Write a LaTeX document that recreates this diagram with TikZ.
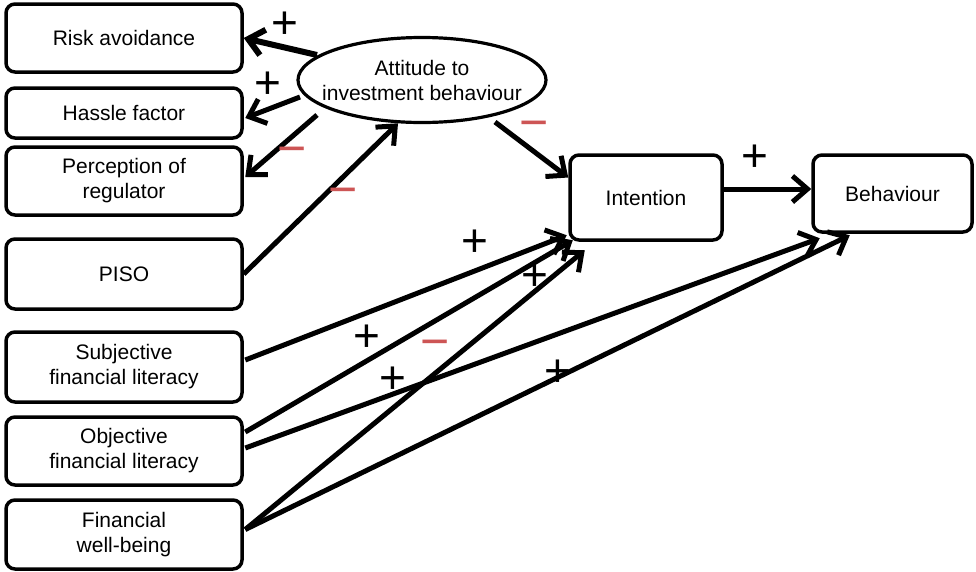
\documentclass[tikz,border=0pt]{standalone}
\usepackage{fontspec}
\setmainfont{Liberation Sans}
\usetikzlibrary{arrows.meta,shapes.geometric}
\definecolor{minusred}{RGB}{205,85,85}
\begin{document}
\begin{tikzpicture}[x=1pt,y=-1pt,
  box/.style={draw,line width=3.5pt,rounded corners=9pt,align=center,
    inner sep=0pt,minimum width=236pt,font=\fontsize{21}{25}\selectfont},
  link/.style={line width=5pt,-{Straight Barb[length=15pt,width=26pt]}},
  plussign/.style={font=\fontsize{46}{46}\selectfont,inner sep=0pt},
  minussign/.style={font=\fontsize{50}{50}\selectfont,text=minusred,inner sep=0pt}]
\useasboundingbox (0,0) rectangle (976,571);

% input constructs
\node[box,minimum height=68pt] (risk)   at (124,38)  {Risk avoidance};
\node[box,minimum height=50pt] (hassle) at (124,113) {Hassle factor};
\node[box,minimum height=68pt] (perc)   at (124,181) {Perception of\\regulator};
\node[box,minimum height=70pt] (piso)   at (124,274) {PISO};
\node[box,minimum height=70pt] (subj)   at (124,367) {Subjective\\financial literacy};
\node[box,minimum height=68pt] (obj)    at (124,451) {Objective\\financial literacy};
\node[box,minimum height=69pt] (fin)    at (124,534.5) {Financial\\well-being};

% attitude construct
\node[draw,ellipse,line width=3.2pt,inner xsep=-20pt,inner ysep=0pt,
  minimum width=248pt,minimum height=85pt,align=center,
  font=\fontsize{21}{25}\selectfont] (att) at (422,80)
  {Attitude to\\investment behaviour};

% outcomes
\node[box,minimum width=152pt,minimum height=85pt] (int) at (646,197.5) {Intention};
\node[box,minimum width=159pt,minimum height=77pt] (beh) at (892.5,193.5) {Behaviour};

% paths
\draw[link,line width=6pt] ([shift={(-105,-25)}]att.center) -- (risk.east);
\draw[link] ([shift={(-122,17)}]att.center) -- ([shift={(1.5,5)}]hassle.east);
\draw[link] ([shift={(-105,35)}]att.center) -- ([shift={(1.5,-4)}]perc.east);
\draw[link] (piso.east) -- (att.241);
\draw[link] ([shift={(73,42)}]att.center) -- ([shift={(0,-20)}]int.west);
\draw[link] ([shift={(0,-8.5)}]int.east) -- ([shift={(0,-4.5)}]beh.west);
\draw[link] ([shift={(1.5,-7)}]subj.east) -- ([shift={(-1.5,-6.5)}]int.south west);
\draw[link] ([shift={(1.5,-19)}]obj.east) -- ([shift={(4.5,-1.5)}]int.south west);
\draw[link] ([shift={(1.5,-3)}]obj.east) -- ([shift={(8.5,4.5)}]beh.south west);
\draw[link] ([shift={(1.5,-5)}]fin.east) -- ([shift={(16.5,8.5)}]int.south west);
\draw[link] ([shift={(1.5,-5)}]fin.east) -- ([shift={(38.5,1.5)}]beh.south west);

% signs
\node[plussign] (s1)  at (285,25)  {+};
\node[plussign] (s2)  at (268,85)  {+};
\node[minussign] (s3)  at (292,156) {−};
\node[minussign] (s4)  at (343,197) {−};
\node[minussign] (s5)  at (534,130) {−};
\node[plussign] (s6)  at (755,158) {+};
\node[plussign] (s7)  at (475,243) {+};
\node[plussign] (s8)  at (535,277) {+};
\node[plussign] (s9)  at (367,338) {+};
\node[minussign] (s10) at (435,349) {−};
\node[plussign] (s11) at (393,380) {+};
\node[plussign] (s12) at (558,373) {+};
\end{tikzpicture}
\end{document}
